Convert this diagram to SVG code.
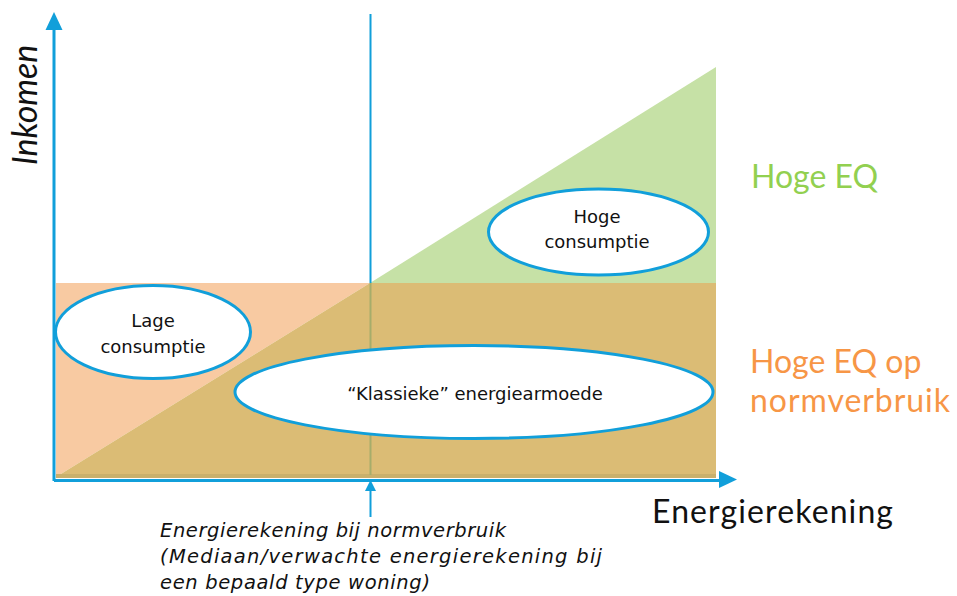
<svg xmlns="http://www.w3.org/2000/svg" width="957" height="596" viewBox="0 0 957 596">
<style>
.ell{fill:#ffffff;stroke:#119fda;stroke-width:3}
.lbl{font-family:"DejaVu Sans","Liberation Sans",sans-serif;font-size:18px;fill:#111;text-anchor:middle}
.big{font-family:Lato,"Liberation Sans",sans-serif;font-size:32px}
.ax{stroke:#119fda;stroke-width:3;fill:none}
.ah{fill:#119fda}
</style>
<rect width="957" height="596" fill="#ffffff"/>
<g id="regions">
<polygon points="56,283 370,283 56,477" fill="#f8caa2"/>
<polygon points="370,283 716,67 716,283" fill="#c6e1a6"/>
<polygon points="56,477 370,283 716,283 716,478 56,478" fill="#dbbc75"/>
<rect x="56" y="474" width="660" height="4" fill="#c9b06c"/>
</g>
<g id="connectors">
<line x1="370.5" y1="14" x2="370.5" y2="283" stroke="#119fda" stroke-width="2"/>
<line x1="370.5" y1="283" x2="370.5" y2="475" stroke="#a6ad6b" stroke-width="2"/>
<line class="ax" x1="54" y1="481" x2="54" y2="28"/>
<polygon class="ah" points="54,12 45.5,30 62.5,30"/>
<line class="ax" x1="54" y1="480.5" x2="722" y2="480.5"/>
<polygon class="ah" points="737,479.5 719,471 719,488"/>
<line x1="370.5" y1="489" x2="370.5" y2="517" stroke="#119fda" stroke-width="2"/>
<polygon class="ah" points="370.5,480 365,491 376,491"/>
</g>
<g id="lage">
<ellipse class="ell" cx="153" cy="332" rx="97.5" ry="46.5"/>
<text class="lbl" x="153" y="327">Lage</text>
<text class="lbl" x="153" y="353">consumptie</text>
</g>
<g id="hoge">
<ellipse class="ell" cx="598.5" cy="232" rx="110" ry="43"/>
<text class="lbl" x="597" y="223">Hoge</text>
<text class="lbl" x="597" y="248">consumptie</text>
</g>
<g id="klassieke">
<ellipse class="ell" cx="474" cy="392" rx="239" ry="46.5"/>
<text class="lbl" x="475" y="400">“Klassieke” energiearmoede</text>
</g>
<g id="labels">
<text class="big" x="751" y="188" fill="#92d050">Hoge EQ</text>
<text class="big" x="750" y="373" fill="#f79646">Hoge EQ op</text>
<text class="big" x="750" y="412" fill="#f79646" textLength="200" lengthAdjust="spacing">normverbruik</text>
<text class="big" x="652" y="523" fill="#111" font-size="33" textLength="241" lengthAdjust="spacing">Energierekening</text>
<text transform="translate(37,105) rotate(-90)" font-family="Lato,'Liberation Sans',sans-serif" font-style="italic" font-size="34" text-anchor="middle" fill="#111">Inkomen</text>
<g font-family="'DejaVu Sans','Liberation Sans',sans-serif" font-style="italic" font-size="19.5" fill="#111" lengthAdjust="spacing">
<text x="160" y="537" textLength="346">Energierekening bij normverbruik</text>
<text x="160" y="563" textLength="442">(Mediaan/verwachte energierekening bij</text>
<text x="160" y="589" textLength="270">een bepaald type woning)</text>
</g>
</g>
</svg>
